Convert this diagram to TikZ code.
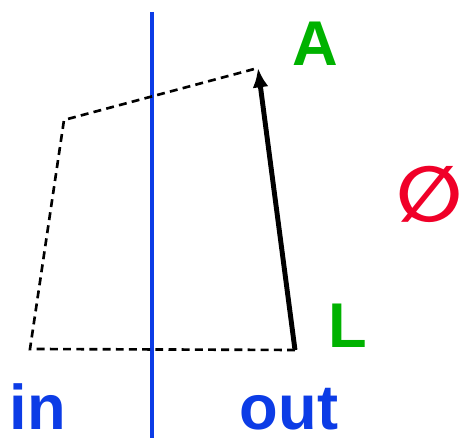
\documentclass[tikz,border=0pt]{standalone}
\usepackage{fontspec}
\setmainfont{Liberation Sans}
\newfontfamily\symfont{DejaVu Sans}
\usetikzlibrary{arrows.meta}
\definecolor{labgreen}{RGB}{0,178,0}
\definecolor{wallblue}{RGB}{12,60,230}
\definecolor{nullred}{RGB}{240,0,40}

\begin{document}
\begin{tikzpicture}[x=0.02cm, y=0.02cm, >={Latex[length=11pt,width=9pt]}]
    \tikzstyle{letter}=[font=\fontsize{36}{40}\selectfont\bfseries, text=labgreen, inner sep=0pt, anchor=base]
    \tikzstyle{side}=[font=\fontsize{36}{40}\selectfont\bfseries, text=wallblue, inner sep=0pt, anchor=base]
    \tikzstyle{path}=[line width=1.5pt, dash pattern=on 4.5pt off 3pt]

    \useasboundingbox (0,0) rectangle (467,438);

    % wall
    \coordinate (wtop) at (152,426);
    \coordinate (wbot) at (152,0);
    \draw[wallblue, line width=2.6pt] (wtop) -- (wbot);

    % corners
    \coordinate (l) at (295,88);
    \coordinate (bl) at (30,89);
    \coordinate (ul) at (64,318);
    \coordinate (a) at (258,370);

    \draw[path] (l) -- (bl) -- (ul) -- (a);
    \draw[->, line width=2.8pt] (l) -- (a);

    \node[letter] (labA) at (315,372) {A};
    \node[letter] (labL) at (348,90) {L};
    \node[side] (labin) at (38,8) {in};
    \node[side] (labout) at (289,8) {out};
    \node[font=\symfont\bfseries\fontsize{44}{48}\selectfont, text=nullred, inner sep=0pt] (null) at (430,244) {∅};
\end{tikzpicture}
\end{document}
